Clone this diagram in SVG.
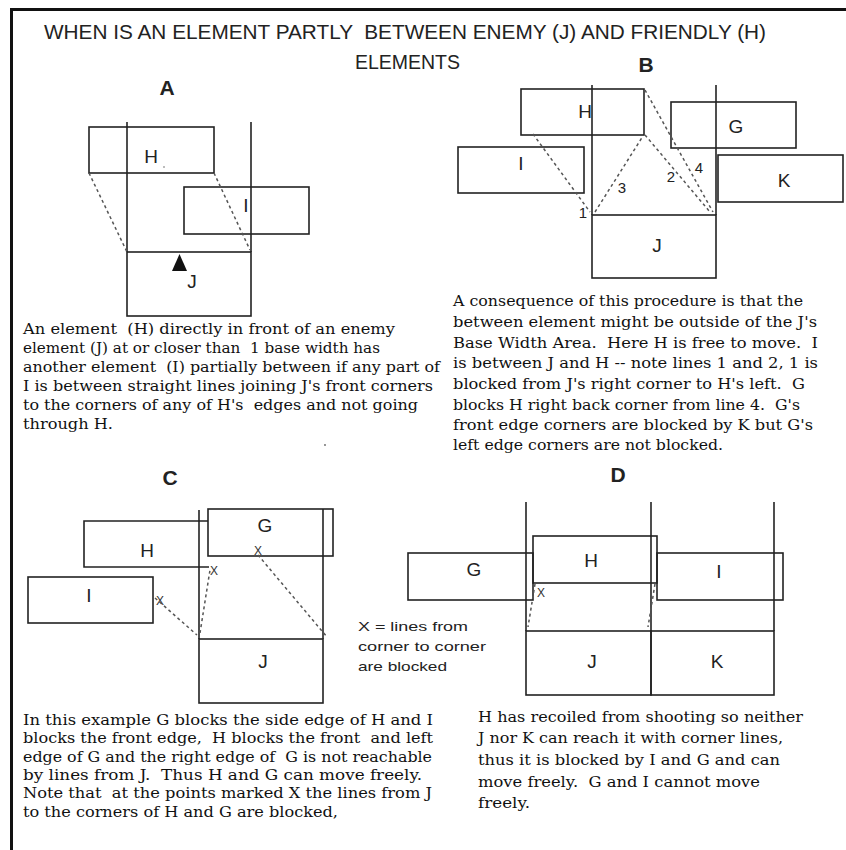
<svg xmlns="http://www.w3.org/2000/svg" width="846" height="850" viewBox="0 0 846 850">
<style>
.bx{fill:none;stroke:#222;stroke-width:1.6}
.gd{stroke:#222;stroke-width:1.6}
.ds{stroke:#555;stroke-width:1.5;stroke-dasharray:3,3;fill:none}
.lb{font-family:"Liberation Sans",Arial,sans-serif;font-size:19px;fill:#222;text-anchor:middle}
.pl{font-family:"Liberation Sans",Arial,sans-serif;font-size:21px;font-weight:bold;fill:#222;text-anchor:middle}
.nm{font-family:"Liberation Sans",Arial,sans-serif;font-size:15px;fill:#222;text-anchor:middle}
.xm{font-family:"Liberation Sans",Arial,sans-serif;font-size:12px;fill:#333;text-anchor:middle}
.tt{font-family:"Liberation Sans",Arial,sans-serif;font-size:21px;fill:#222;white-space:pre}
.bd{font-family:"DejaVu Serif","Liberation Serif",serif;font-size:14.5px;fill:#111;white-space:pre}
.sm{font-family:"Liberation Sans",Arial,sans-serif;font-size:13px;fill:#222}
</style>
<rect width="846" height="850" fill="#fff"/>
<g id="frame">
<line x1="10" y1="9.5" x2="846" y2="9.5" stroke="#111" stroke-width="3"/>
<line x1="11.5" y1="8" x2="11.5" y2="850" stroke="#111" stroke-width="3"/>
</g>
<g id="title">
<text class="tt" x="44" y="38.5" textLength="722" lengthAdjust="spacingAndGlyphs">WHEN IS AN ELEMENT PARTLY  BETWEEN ENEMY (J) AND FRIENDLY (H)</text>
<text class="tt" x="355" y="68.5" textLength="105" lengthAdjust="spacingAndGlyphs">ELEMENTS</text>
</g>

<!-- Panel A -->
<text class="pl" x="167" y="95">A</text>
<g id="A-guides">
<line class="gd" x1="127" y1="122" x2="127" y2="252"/>
<line class="gd" x1="251" y1="122" x2="251" y2="252"/>
</g>
<g id="A-H"><rect class="bx" x="89" y="127" width="125" height="46"/><text class="lb" x="151" y="163">H</text><circle cx="164" cy="167" r="0.8" fill="#666"/></g>
<g id="A-I"><rect class="bx" x="184" y="187" width="125" height="47"/><text class="lb" x="246" y="212">I</text></g>
<g id="A-J"><rect class="bx" x="127" y="252" width="124" height="64"/><polygon points="172,271 187,271 179.5,254" fill="#111"/><text class="lb" x="192" y="288">J</text></g>
<g id="A-connectors">
<line class="ds" x1="89" y1="173" x2="127" y2="252"/>
<line class="ds" x1="214" y1="173" x2="250" y2="250"/>
</g>
<g id="A-text">
<text class="bd" x="23" y="334" textLength="372" lengthAdjust="spacingAndGlyphs">An element  (H) directly in front of an enemy</text>
<text class="bd" x="23" y="353" textLength="357" lengthAdjust="spacingAndGlyphs">element (J) at or closer than  1 base width has</text>
<text class="bd" x="23" y="372" textLength="417" lengthAdjust="spacingAndGlyphs">another element  (I) partially between if any part of</text>
<text class="bd" x="23" y="391" textLength="410" lengthAdjust="spacingAndGlyphs">I is between straight lines joining J's front corners</text>
<text class="bd" x="23" y="410" textLength="395" lengthAdjust="spacingAndGlyphs">to the corners of any of H's  edges and not going</text>
<text class="bd" x="23" y="429" textLength="90" lengthAdjust="spacingAndGlyphs">through H.</text>
<circle cx="325" cy="445" r="0.9" fill="#666"/>
</g>

<!-- Panel B -->
<text class="pl" x="646" y="72">B</text>
<g id="B-guides">
<line class="gd" x1="592" y1="85" x2="592" y2="215"/>
<line class="gd" x1="716" y1="85" x2="716" y2="215"/>
</g>
<g id="B-H"><rect class="bx" x="521" y="89" width="123" height="46"/><text class="lb" x="585" y="118">H</text></g>
<g id="B-G"><rect class="bx" x="671" y="102" width="125" height="46"/><text class="lb" x="736" y="133">G</text></g>
<g id="B-I"><rect class="bx" x="458" y="147" width="126" height="46"/><text class="lb" x="521" y="170">I</text></g>
<g id="B-K"><rect class="bx" x="718" y="155" width="125" height="47"/><text class="lb" x="784" y="187">K</text></g>
<g id="B-J"><rect class="bx" x="592" y="215" width="124" height="63"/><text class="lb" x="657" y="252">J</text></g>
<g id="B-connectors">
<line class="ds" x1="533" y1="134" x2="590" y2="212"/>
<line class="ds" x1="595" y1="212" x2="643" y2="136"/>
<line class="ds" x1="645" y1="135" x2="710" y2="212"/>
<line class="ds" x1="645" y1="90" x2="713" y2="212"/>
<text class="nm" x="583" y="218">1</text>
<text class="nm" x="622" y="193">3</text>
<text class="nm" x="671" y="182">2</text>
<text class="nm" x="699" y="173">4</text>
</g>
<g id="B-text">
<text class="bd" x="453" y="306" textLength="350" lengthAdjust="spacingAndGlyphs">A consequence of this procedure is that the</text>
<text class="bd" x="453" y="327" textLength="364" lengthAdjust="spacingAndGlyphs">between element might be outside of the J's</text>
<text class="bd" x="453" y="348" textLength="365" lengthAdjust="spacingAndGlyphs">Base Width Area.  Here H is free to move.  I</text>
<text class="bd" x="453" y="368" textLength="365" lengthAdjust="spacingAndGlyphs">is between J and H -- note lines 1 and 2, 1 is</text>
<text class="bd" x="453" y="389" textLength="352" lengthAdjust="spacingAndGlyphs">blocked from J's right corner to H's left.  G</text>
<text class="bd" x="453" y="410" textLength="347" lengthAdjust="spacingAndGlyphs">blocks H right back corner from line 4.  G's</text>
<text class="bd" x="453" y="430" textLength="360" lengthAdjust="spacingAndGlyphs">front edge corners are blocked by K but G's</text>
<text class="bd" x="453" y="450" textLength="270" lengthAdjust="spacingAndGlyphs">left edge corners are not blocked.</text>
</g>

<!-- Panel C -->
<text class="pl" x="170" y="485">C</text>
<g id="C-guides">
<line class="gd" x1="199" y1="510" x2="199" y2="639"/>
<line class="gd" x1="323" y1="509" x2="323" y2="639"/>
</g>
<g id="C-G"><rect class="bx" x="208" y="509" width="125" height="47"/><text class="lb" x="265" y="532">G</text></g>
<g id="C-H"><path class="bx" d="M208,521 H84 V567 H209"/><text class="lb" x="147" y="557">H</text></g>
<g id="C-I"><rect class="bx" x="28" y="577" width="125" height="46"/><text class="lb" x="89" y="602">I</text></g>
<g id="C-J"><rect class="bx" x="199" y="639" width="124" height="64"/><text class="lb" x="263" y="668">J</text></g>
<g id="C-connectors">
<line class="ds" x1="155" y1="598" x2="197" y2="635"/>
<line class="ds" x1="200" y1="633" x2="210" y2="570"/>
<line class="ds" x1="258" y1="555" x2="327" y2="637"/>
<text class="xm" x="160" y="605">X</text>
<text class="xm" x="214" y="575">X</text>
<text class="xm" x="258" y="555">X</text>
</g>
<g id="legend">
<text class="sm" x="358" y="631" textLength="110" lengthAdjust="spacingAndGlyphs">X = lines from</text>
<text class="sm" x="358" y="651" textLength="128" lengthAdjust="spacingAndGlyphs">corner to corner</text>
<text class="sm" x="358" y="671" textLength="89" lengthAdjust="spacingAndGlyphs">are blocked</text>
</g>
<g id="C-text">
<text class="bd" x="23" y="725" textLength="410" lengthAdjust="spacingAndGlyphs">In this example G blocks the side edge of H and I</text>
<text class="bd" x="23" y="743" textLength="410" lengthAdjust="spacingAndGlyphs">blocks the front edge,  H blocks the front  and left</text>
<text class="bd" x="23" y="762" textLength="409" lengthAdjust="spacingAndGlyphs">edge of G and the right edge of  G is not reachable</text>
<text class="bd" x="23" y="780" textLength="399" lengthAdjust="spacingAndGlyphs">by lines from J.  Thus H and G can move freely.</text>
<text class="bd" x="23" y="798" textLength="409" lengthAdjust="spacingAndGlyphs">Note that  at the points marked X the lines from J</text>
<text class="bd" x="23" y="817" textLength="315" lengthAdjust="spacingAndGlyphs">to the corners of H and G are blocked,</text>
</g>

<!-- Panel D -->
<text class="pl" x="618" y="482">D</text>
<g id="D-guides">
<line class="gd" x1="526" y1="502" x2="526" y2="631"/>
<line class="gd" x1="651" y1="502" x2="651" y2="631"/>
<line class="gd" x1="774" y1="502" x2="774" y2="631"/>
</g>
<g id="D-H"><rect class="bx" x="533" y="536" width="124" height="47"/><text class="lb" x="591" y="567">H</text></g>
<g id="D-G"><rect class="bx" x="408" y="553" width="125" height="47"/><text class="lb" x="474" y="576">G</text></g>
<g id="D-I"><rect class="bx" x="657" y="553" width="126" height="47"/><text class="lb" x="719" y="578">I</text></g>
<g id="D-J"><rect class="bx" x="526" y="631" width="125" height="64"/><text class="lb" x="592" y="668">J</text></g>
<g id="D-K"><rect class="bx" x="651" y="631" width="123" height="64"/><text class="lb" x="717" y="668">K</text></g>
<g id="D-connectors">
<line class="ds" x1="535" y1="584" x2="528" y2="627"/>
<line class="ds" x1="655" y1="584" x2="648" y2="627"/>
<text class="xm" x="541" y="597" font-size="11">X</text>
</g>
<g id="D-text">
<text class="bd" x="478" y="722" textLength="325" lengthAdjust="spacingAndGlyphs">H has recoiled from shooting so neither</text>
<text class="bd" x="478" y="743" textLength="305" lengthAdjust="spacingAndGlyphs">J nor K can reach it with corner lines,</text>
<text class="bd" x="478" y="765" textLength="302" lengthAdjust="spacingAndGlyphs">thus it is blocked by I and G and can</text>
<text class="bd" x="478" y="787" textLength="282" lengthAdjust="spacingAndGlyphs">move freely.  G and I cannot move</text>
<text class="bd" x="478" y="808" textLength="52" lengthAdjust="spacingAndGlyphs">freely.</text>
</g>
</svg>
